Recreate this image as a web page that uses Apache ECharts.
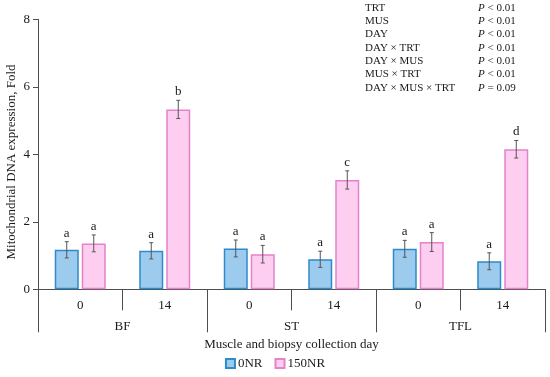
<!DOCTYPE html>
<html><head><meta charset="utf-8">
<script src="https://cdn.jsdelivr.net/npm/echarts@6/dist/echarts.min.js"></script>
<style>html,body{margin:0;padding:0;background:#fff}#c{width:550px;height:377px}</style>
</head><body><div id="c"></div>
<script>
var days = ['0','14','0','14','0','14'];
var muscles = ['BF','ST','TFL'];
var yTicks = [0,2,4,6,8];
var nr0 = [1.17, 1.14, 1.21, 0.89, 1.20, 0.83];
var nr150 = [1.36, 5.33, 1.04, 3.24, 1.40, 4.15];
var err0 = [0.24, 0.24, 0.25, 0.24, 0.25, 0.25];
var err150 = [0.25, 0.27, 0.26, 0.27, 0.28, 0.26];
var letters0 = ['a','a','a','a','a','a'];
var letters150 = ['a','b','a','c','a','d'];
var effects = ['TRT','MUS','DAY','DAY × TRT','DAY × MUS','MUS × TRT','DAY × MUS × TRT'];
var pvals = ['< 0.01','< 0.01','< 0.01','< 0.01','< 0.01','< 0.01','= 0.09'];

var FONT = 'Liberation Serif';
var TXT = '#1a1a1a';
var AX = '#4d4d4d';
var BW = 24, GAP = 3;

var chart = echarts.init(document.getElementById('c'), null, {renderer:'canvas'});

function errSeries(vals, errs, letters, sign){
  return {
    type:'custom', xAxisIndex:0, yAxisIndex:0, z:5, silent:true,
    data: vals.map(function(v,i){return [i, v, errs[i]];}),
    renderItem: function(params, api){
      var i = api.value(0), v = api.value(1), e = api.value(2);
      var c = api.coord([i, v]);
      var x = c[0] + sign*(BW/2 + GAP/2);
      var yt = api.coord([i, v+e])[1];
      var yb = api.coord([i, v-e])[1];
      var st = {stroke:'#555', lineWidth:1};
      return {type:'group', children:[
        {type:'line', shape:{x1:x,y1:yt,x2:x,y2:yb}, style:st},
        {type:'line', shape:{x1:x-2,y1:yt,x2:x+2,y2:yt}, style:st},
        {type:'line', shape:{x1:x-2,y1:yb,x2:x+2,y2:yb}, style:st},
        {type:'text', x:x, y:yt-2, style:{text:letters[i], fill:TXT, font:'13px "'+FONT+'"', align:'center', verticalAlign:'bottom'}}
      ]};
    }
  };
}

var graphics = [];
effects.forEach(function(e, k){
  var y = 8.3 + k*13.35;
  graphics.push({type:'text', left:365, top:y-6, style:{text:e, fill:TXT, font:'11px "'+FONT+'"'}});
  graphics.push({type:'text', left:478, top:y-6, style:{text:'{i|P} '+pvals[k], fill:TXT, font:'11px "'+FONT+'"', rich:{i:{fontStyle:'italic', fontFamily:FONT, fontSize:11, fill:TXT}}}});
});
graphics.push({type:'text', x:12, y:162, rotation:Math.PI/2, style:{text:'Mitochondrial DNA expression, Fold', fill:TXT, font:'13px "'+FONT+'"', align:'center', verticalAlign:'middle'}});

chart.setOption({
  animation:false,
  textStyle:{fontFamily:FONT},
  grid:{left:38, right:5, top:19.3, bottom:87.7, containLabel:false, outerBoundsMode:'none'},
  legend:{
    data:['0NR','150NR'], bottom:2, left:'center', icon:'rect', itemWidth:9, itemHeight:9, itemGap:12,
    textStyle:{fontFamily:FONT, fontSize:13, color:TXT, padding:[0,0,0,-2]}
  },
  xAxis:[
    {type:'category', data:days, position:'bottom',
     axisLine:{show:true, lineStyle:{color:AX, width:1}},
     axisTick:{show:true, length:21, interval:0, lineStyle:{color:AX}},
     axisLabel:{fontFamily:FONT, fontSize:13, color:TXT, margin:10}},
    {type:'category', data:muscles, position:'bottom',
     axisLine:{show:false},
     axisTick:{show:true, length:43, interval:0, lineStyle:{color:AX}},
     axisLabel:{fontFamily:FONT, fontSize:13, color:TXT, margin:31},
     name:'Muscle and biopsy collection day', nameLocation:'middle', nameGap:47,
     nameTextStyle:{fontFamily:FONT, fontSize:13, color:TXT}}
  ],
  yAxis:{type:'value', min:0, max:8, interval:2,
    axisLine:{show:true, lineStyle:{color:AX}},
    axisTick:{show:true, length:5, lineStyle:{color:AX}},
    splitLine:{show:false},
    axisLabel:{fontFamily:FONT, fontSize:13, color:TXT, margin:8}},
  series:[
    {name:'0NR', type:'bar', data:nr0, barWidth:BW, barGap:(GAP/BW*100)+'%',
     itemStyle:{color:'#9DCBEE', borderColor:'#2D8BC9', borderWidth:1.5}},
    {name:'150NR', type:'bar', data:nr150, barWidth:BW,
     itemStyle:{color:'#FDCEF0', borderColor:'#E482CC', borderWidth:1.5}},
    errSeries(nr0, err0, letters0, -1),
    errSeries(nr150, err150, letters150, 1)
  ],
  graphic:graphics
});
</script></body></html>
